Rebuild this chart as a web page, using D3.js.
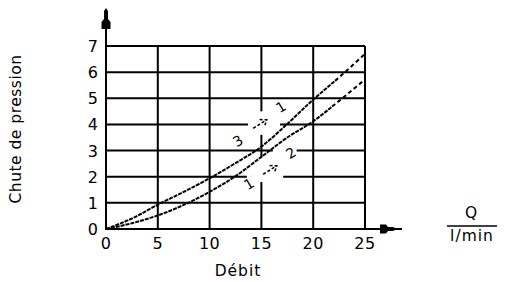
<!DOCTYPE html>
<html><head><meta charset="utf-8">
<script src="https://cdn.jsdelivr.net/npm/d3@7"></script>
<style>
html,body{margin:0;padding:0;background:#fff;}
svg{display:block;}
text{font-family:"DejaVu Sans",sans-serif;fill:#000;}
</style></head>
<body>
<svg id="c" width="521" height="282"></svg>
<script>
const xTicks = [0, 5, 10, 15, 20, 25];
const yTicks = [0, 1, 2, 3, 4, 5, 6, 7];
const flowQ = [0, 2.5, 5, 7.5, 10, 12.5, 15, 17.5, 20, 22.5, 25];
const curve31 = [0, 0.4, 0.93, 1.42, 1.94, 2.52, 3.15, 4.02, 4.95, 5.8, 6.7];
const curve12 = [0, 0.22, 0.52, 0.92, 1.42, 2.02, 2.76, 3.5, 4.12, 4.9, 5.72];
const yTitle = "Chute de pression";
const xTitle = "Débit";
const unitTop = "Q";
const unitBottom = "l/min";

const svg = d3.select("#c");
const x = d3.scaleLinear().domain([0, 25]).range([106, 365]);
const y = d3.scaleLinear().domain([0, 7]).range([229, 46]);

// grid
const g = svg.append("g");
g.selectAll("line.v").data(xTicks.slice(1)).join("line")
  .attr("x1", d => x(d)).attr("x2", d => x(d)).attr("y1", y(0)).attr("y2", y(7))
  .attr("stroke", "#000").attr("stroke-width", 2);
g.selectAll("line.h").data(yTicks.slice(1)).join("line")
  .attr("x1", x(0)).attr("x2", x(25)).attr("y1", d => y(d)).attr("y2", d => y(d))
  .attr("stroke", "#000").attr("stroke-width", 2);

// white gaps behind annotations
const hGaps = [[4, 13.7, 16.8], [3, 16.1, 18.4], [2, 13.6, 17.1]];
hGaps.forEach(([v, a, b]) => g.append("rect").attr("x", x(a)).attr("width", x(b) - x(a))
  .attr("y", y(v) - 2).attr("height", 4).attr("fill", "#fff"));
const vGaps = [[15, 3.6, 4.5], [15, 1.8, 2.75]];
vGaps.forEach(([q, a, b]) => g.append("rect").attr("x", x(q) - 2).attr("width", 4)
  .attr("y", y(b)).attr("height", y(a) - y(b)).attr("fill", "#fff"));

// axes
svg.append("line").attr("x1", x(0)).attr("x2", x(0)).attr("y1", y(0) + 1).attr("y2", 10)
  .attr("stroke", "#000").attr("stroke-width", 2);
svg.append("line").attr("x1", x(0) - 1).attr("x2", 402).attr("y1", y(0)).attr("y2", y(0))
  .attr("stroke", "#000").attr("stroke-width", 2);
const ax = x(0);
svg.append("path").attr("d", `M${ax},8 L${ax+2},11 L${ax+2},19 L${ax+4.5},22 L${ax+4.5},29 L${ax-4.5},29 L${ax-4.5},22 L${ax-2},19 L${ax-2},11 Z`).attr("fill", "#000");
const ay = y(0);
svg.append("path").attr("d", `M397,${ay} L393,${ay-2} L388,${ay-2} L386,${ay-4.5} L380,${ay-4.5} L380,${ay+4.5} L386,${ay+4.5} L388,${ay+2} L393,${ay+2} Z`).attr("fill", "#000");

// ticks labels
svg.selectAll("text.yt").data(yTicks).join("text")
  .attr("x", 98).attr("y", d => y(d) + 6).attr("text-anchor", "end")
  .attr("font-size", 16).text(d => d);
svg.selectAll("text.xt").data(xTicks).join("text")
  .attr("x", d => x(d)).attr("y", 249).attr("text-anchor", "middle")
  .attr("font-size", 16).attr("letter-spacing", 0.5).text(d => d);

// titles
svg.append("text").attr("transform", "translate(21,129) rotate(-90)")
  .attr("text-anchor", "middle").attr("font-size", 15.5).attr("letter-spacing", 0.5).text(yTitle);
svg.append("text").attr("x", 238).attr("y", 276).attr("text-anchor", "middle")
  .attr("font-size", 15.5).attr("letter-spacing", 1).text(xTitle);
svg.append("text").attr("x", 471).attr("y", 218).attr("text-anchor", "middle")
  .attr("font-size", 15.5).text(unitTop);
svg.append("line").attr("x1", 447).attr("x2", 497).attr("y1", 226).attr("y2", 226)
  .attr("stroke", "#000").attr("stroke-width", 1.5);
svg.append("text").attr("x", 472).attr("y", 241).attr("text-anchor", "middle")
  .attr("font-size", 15.5).attr("letter-spacing", 1).text(unitBottom);

// curves
const line = d3.line().x(d => x(d[0])).y(d => y(d[1])).curve(d3.curveMonotoneX);
function drawCurve(vals, dashFrom) {
  const pts = flowQ.map((q, i) => [q, vals[i]]);
  const full = svg.append("path").attr("d", line(pts)).attr("fill", "none")
    .attr("stroke", "#000").attr("stroke-width", 2);
  const node = full.node();
  const total = node.getTotalLength();
  let lo = 0, hi = total;
  for (let k = 0; k < 30; k++) {
    const m = (lo + hi) / 2;
    if (node.getPointAtLength(m).x < x(dashFrom)) lo = m; else hi = m;
  }
  const L = lo;
  const solidPattern = [];
  let acc = 0;
  while (acc < L) { solidPattern.push(4, 1); acc += 5; }
  const rest = [];
  let acc2 = acc;
  while (acc2 < total + 10) { rest.push(4, 3); acc2 += 7; }
  full.attr("stroke-dasharray", solidPattern.concat(rest).join(","));
}
drawCurve(curve31, 22);
drawCurve(curve12, 21.5);

// annotations (flow paths)
function annot(cx, cy) {
  const a = svg.append("g").attr("transform", `translate(${cx},${cy}) rotate(-32)`);
  a.append("path").attr("d", "M-8,0 L8,0 M2,-4 L8,0 L3,4")
    .attr("fill", "none").attr("stroke", "#000").attr("stroke-width", 1.5)
    .attr("stroke-dasharray", "3,2");
}
function lbl(cx, cy, t) {
  svg.append("text").attr("transform", `translate(${cx},${cy}) rotate(-32)`)
    .attr("text-anchor", "middle").attr("dy", 5).attr("font-size", 14).text(t);
}
annot(260, 124);
lbl(238, 141, "3");
lbl(281, 107, "1");
annot(270, 170);
lbl(249, 184, "1");
lbl(291, 153, "2");
</script>
</body></html>
